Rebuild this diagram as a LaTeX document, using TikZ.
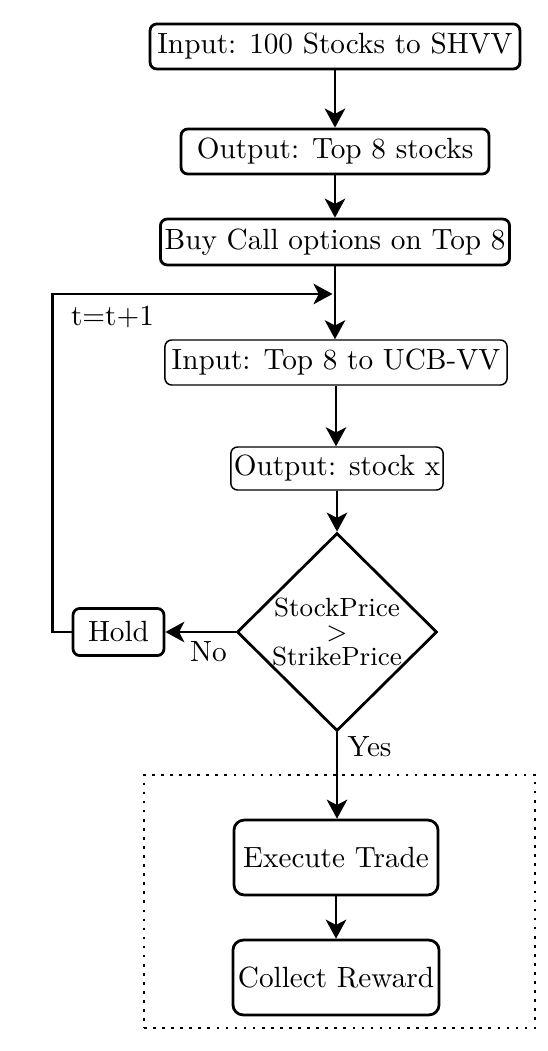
\documentclass[tikz,border=0pt]{standalone}
\usetikzlibrary{shapes.geometric,arrows.meta}
\begin{document}
\begin{tikzpicture}[x=0.342pt,y=-0.342pt,
  box/.style={draw,line width=0.95pt,rounded corners=2.3pt,inner sep=1pt,align=center},
  thinbox/.style={draw,line width=0.5pt,rounded corners=2.3pt,inner sep=1pt,align=center},
  bigbox/.style={draw,line width=0.95pt,rounded corners=3.5pt,inner sep=1pt,align=center},
  decision/.style={draw,diamond,line width=0.95pt,inner sep=0pt,align=center,font=\small},
  flow/.style={line width=0.95pt,-{Stealth[length=6.5pt,width=7pt,inset=1.8pt]}},
  lbl/.style={inner sep=0pt}]
\useasboundingbox (0,0) rectangle (548,1051);
\node[box,minimum width=126.5pt,minimum height=15.4pt] (in1) at (335,46.5) {Input: 100 Stocks to SHVV};
\node[box,minimum width=105.3pt,minimum height=15.4pt] (out1) at (335,151.5) {Output: Top 8 stocks};
\node[box,minimum width=119.4pt,minimum height=15.7pt] (buy) at (335,242) {Buy Call options on Top 8};
\node[thinbox,minimum width=117pt,minimum height=15.4pt] (in2) at (336,362.5) {Input: Top 8 to UCB-VV};
\node[thinbox,minimum width=71.8pt,minimum height=14.7pt] (out2) at (337,468.5) {Output: stock x};
\node[decision,minimum width=68.4pt,minimum height=66.3pt] (dec) at (337,632) {StockPrice\\[-2.6pt]$>$\\[-2.6pt]StrikePrice};
\node[box,minimum width=31.1pt,minimum height=16.1pt] (hold) at (118.5,632) {Hold};
\node[draw,line width=0.9pt,dash pattern=on 0.9pt off 2.2pt,minimum width=133.7pt,minimum height=86.5pt,inner sep=0pt] (grp) at (339.5,901.5) {};
\node[bigbox,minimum width=69.8pt,minimum height=25.6pt] (exec) at (336,857.5) {Execute Trade};
\node[bigbox,minimum width=70.5pt,minimum height=25.6pt] (coll) at (336,977.5) {Collect Reward};
\coordinate (j) at (336,294);
\node[lbl] (tl) at (112.5,317) {t=t+1};
\node[lbl] (no) at (208.5,652) {No};
\node[lbl] (yes) at (369.5,747) {Yes};
\draw[flow] (in1.south) -- (in1.south |- out1.north);
\draw[flow] (out1.south) -- (out1.south |- buy.north);
\draw[flow] (buy.south) -- (buy.south |- in2.north);
\draw[flow] (in2.south) -- (in2.south |- out2.north);
\draw[flow] (out2.south) -- (out2.south |- dec.north);
\draw[flow] (dec.west) -- (hold.east);
\draw[flow] (hold.west) -- ++(-19,0) |- ([xshift=-1.2pt]j);
\draw[flow] (dec.south) -- (dec.south |- exec.north);
\draw[flow] (exec.south) -- (exec.south |- coll.north);
\end{tikzpicture}
\end{document}
